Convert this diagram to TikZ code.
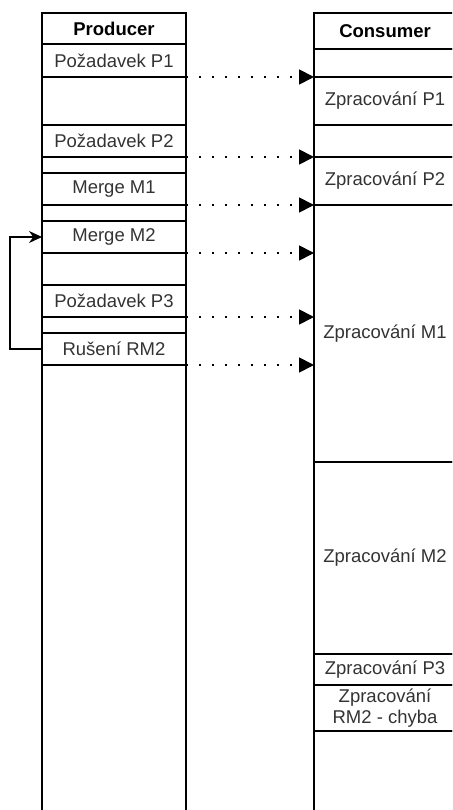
\documentclass[tikz,border=0pt]{standalone}
\usepackage{fontspec}
\setmainfont{Liberation Sans}
\usepackage{xcolor}
\usetikzlibrary{arrows.meta}
\definecolor{textgray}{RGB}{51,51,51}

\begin{document}
\begin{tikzpicture}[x=1pt, y=-1pt,
  cell/.style={draw, line width=1.1pt, inner sep=0pt, outer sep=0pt, anchor=north west,
    text=textgray, font=\fontsize{18.5}{21}\selectfont, align=center},
  pcell/.style={cell, minimum width=144pt},
  ccell/.style={cell, minimum width=142pt},
  msg/.style={line width=1.8pt, dash pattern=on 2pt off 11pt, -{Triangle[length=15pt,width=15pt]}},
  back/.style={line width=1.1pt, -{Stealth[length=13pt,width=12pt]}}]
  \useasboundingbox (0,0) rectangle (452,810);
  \clip (0,0) rectangle (452,810);
  % ---- producer ----
  \node[pcell, minimum height=31pt] (prod) at (42,13) {\bfseries\color{black}Producer};
  \node[pcell, minimum height=33pt] (pP1) at (42,44) {Požadavek P1};
  \node[pcell, minimum height=48pt] (pE1) at (42,77) {};
  \node[pcell, minimum height=32pt] (pP2) at (42,125) {Požadavek P2};
  \node[pcell, minimum height=16pt] (pE2) at (42,157) {};
  \node[pcell, minimum height=32pt] (pM1) at (42,173) {Merge M1};
  \node[pcell, minimum height=16pt] (pE3) at (42,205) {};
  \node[pcell, minimum height=32pt] (pM2) at (42,221) {Merge M2};
  \node[pcell, minimum height=32pt] (pE4) at (42,253) {};
  \node[pcell, minimum height=32pt] (pP3) at (42,285) {Požadavek P3};
  \node[pcell, minimum height=16pt] (pE5) at (42,317) {};
  \node[pcell, minimum height=32pt] (pRM2) at (42,333) {Rušení RM2};
  \node[pcell, minimum height=450pt] (pE6) at (42,365) {};
  % ---- consumer ----
  \node[ccell, minimum height=36pt] (cons) at (314,13) {\bfseries\color{black}Consumer};
  \node[ccell, minimum height=28pt] (cE1) at (314,49) {};
  \node[ccell, minimum height=48pt] (cP1) at (314,77) {Zpracování P1};
  \node[ccell, minimum height=32pt] (cE2) at (314,125) {};
  \node[ccell, minimum height=48pt] (cP2) at (314,157) {Zpracování P2};
  \node[ccell, minimum height=257pt] (cM1) at (314,205) {Zpracování M1};
  \node[ccell, minimum height=192pt] (cM2) at (314,462) {Zpracování M2};
  \node[ccell, minimum height=31pt] (cP3) at (314,654) {Zpracování P3};
  \node[ccell, minimum height=46pt] (cRM2) at (314,685) {Zpracování\\RM2 - chyba};
  \node[ccell, minimum height=84pt] (cE3) at (314,731) {};
  % ---- zpravy ----
  \draw[msg] (pP1.south east) -- (cP1.north west);
  \draw[msg] (pP2.south east) -- (cP2.north west);
  \draw[msg] (pM1.south east) -- (cM1.north west);
  \draw[msg] (pM2.south east) -- (pM2.south east -| cM1.west);
  \draw[msg] (pP3.south east) -- (pP3.south east -| cM1.west);
  \draw[msg] (pRM2.south east) -- (pRM2.south east -| cM1.west);
  % ---- zpet ----
  \draw[back] (pRM2.west) -- ++(-32,0) |- (pM2.west);
\end{tikzpicture}
\end{document}
